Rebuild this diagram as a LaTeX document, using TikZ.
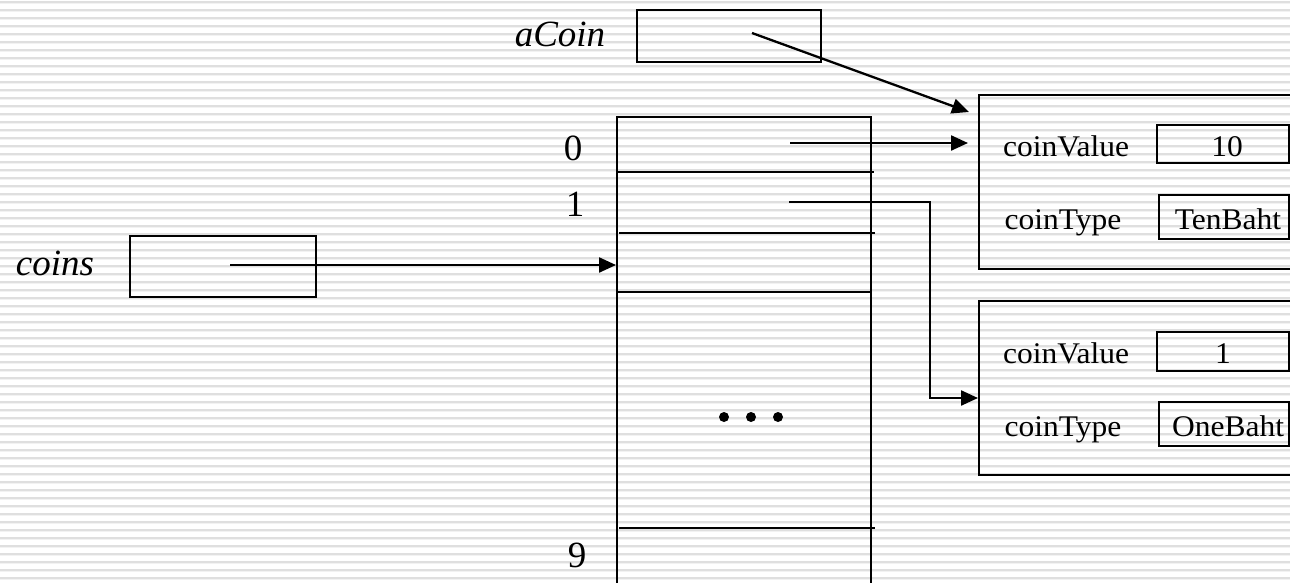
\documentclass[tikz,border=0pt]{standalone}
\usepackage{fontspec}
\usepackage{graphicx}
\setmainfont{Liberation Serif}
\usetikzlibrary{arrows.meta}
\tikzset{
  box/.style={draw=black, line width=2.3pt, inner sep=0pt},
  lbl/.style={font=\fontsize{37}{42}\selectfont\itshape, anchor=base, inner sep=0pt},
  idx/.style={font=\fontsize{37}{42}\selectfont, anchor=base, inner sep=0pt},
  fld/.style={font=\fontsize{30}{34}\selectfont, anchor=base, inner sep=0pt},
  ptr/.style={draw=black, line width=2.3pt, -{Triangle[length=17pt,width=15pt]}},
  cellline/.style={draw=black, line width=2.3pt},
  dotc/.style={circle, fill=black, minimum size=10pt, inner sep=0pt},
  stripe/.style={draw=gray!25, line width=2pt},
  stripe2/.style={draw=gray!10, line width=1.2pt}
}
\newcommand{\wide}[1]{\scalebox{1.05}[1]{#1}}
\begin{document}
\begin{tikzpicture}[x=1pt,y=-1pt]
\useasboundingbox (0,0) rectangle (1290,582);
\clip (0,0) rectangle (1290,582);
% background stripes
\foreach \k in {0,...,72}{
  \draw[stripe] (0,{1.5+8*\k}) -- (1290,{1.5+8*\k});
  \draw[stripe2] (0,{3.2+8*\k}) -- (1290,{3.2+8*\k});
}
% aCoin variable
\node[lbl] (acoinlbl) at (560,46) {aCoin};
\node[box, minimum width=184pt, minimum height=52pt] (acoinbox) at (729,36) {};
\coordinate (acsrc) at (752,33);
% coins variable
\node[lbl] (coinslbl) at (55,275) {coins};
\node[box, minimum width=186pt, minimum height=61pt] (coinsbox) at (223,266.5) {};
\coordinate (cssrc) at (230,265);
% array
\node[box, minimum width=254pt, minimum height=480pt, anchor=north west] (arr) at (616,116) {};
\coordinate (d1a) at (617,172); \coordinate (d1b) at (874,172);
\coordinate (d2a) at (619,233); \coordinate (d2b) at (875,233);
\coordinate (d3a) at (616,292); \coordinate (d3b) at (870,292);
\coordinate (d4a) at (619,528); \coordinate (d4b) at (875,528);
\draw[cellline] (d1a) -- (d1b);
\draw[cellline] (d2a) -- (d2b);
\draw[cellline] (d3a) -- (d3b);
\draw[cellline] (d4a) -- (d4b);
\node[idx] (i0) at (573,160) {0};
\node[idx] (i1) at (575,216) {1};
\node[idx] (i9) at (577,567) {9};
\node[dotc] (dt1) at (724,417) {};
\node[dotc] (dt2) at (751,417) {};
\node[dotc] (dt3) at (778,417) {};
\coordinate (a0src) at (790,143);
\coordinate (a1src) at (789,202);
% object 1
\node[box, minimum width=330pt, minimum height=174pt, anchor=north west] (obj1) at (978,94) {};
\node[fld] (cv1) at (1066,156) {\wide{coinValue}};
\node[fld] (ct1) at (1063,229) {\wide{coinType}};
\node[box, minimum width=132pt, minimum height=38pt] (v1) at (1223,144) {};
\node[box, minimum width=130pt, minimum height=44pt] (t1) at (1224,217) {};
\node[fld] (v1t) at (1227,156) {\wide{10}};
\node[fld] (t1t) at (1228,229) {\wide{TenBaht}};
% object 2
\node[box, minimum width=330pt, minimum height=174pt, anchor=north west] (obj2) at (978,300) {};
\node[fld] (cv2) at (1066,363) {\wide{coinValue}};
\node[fld] (ct2) at (1063,436) {\wide{coinType}};
\node[box, minimum width=132pt, minimum height=39pt] (v2) at (1223,351.5) {};
\node[box, minimum width=130pt, minimum height=44pt] (t2) at (1224,424) {};
\node[fld] (v2t) at (1223,363) {\wide{1}};
\node[fld] (t2t) at (1228,436) {\wide{OneBaht}};
% pointers
\coordinate (actip) at (969,112);
\coordinate (a0tip) at (968,143);
\coordinate (bend) at (930,202);
\coordinate (a1tip) at (obj2.west |- 0,398);
\draw[ptr] (acsrc) -- (actip);
\draw[ptr] (a0src) -- (a0tip);
\draw[ptr] (a1src) -- (bend) |- (a1tip);
\draw[ptr] (cssrc) -- (arr.west |- cssrc);
\end{tikzpicture}
\end{document}
